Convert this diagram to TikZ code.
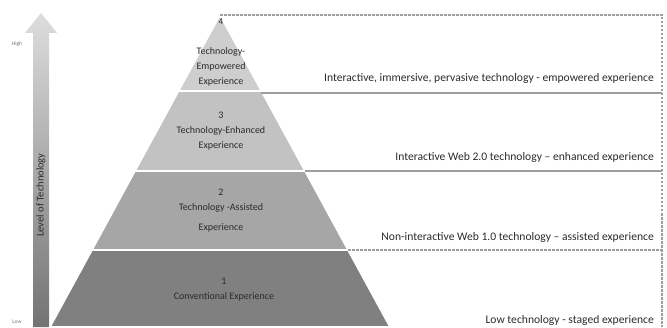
\documentclass[tikz,border=0pt]{standalone}
\usepackage{fontspec}
\setmainfont{Carlito}
\usetikzlibrary{positioning}

\definecolor{tierfour}{HTML}{CECECE}
\definecolor{tierthree}{HTML}{C2C2C2}
\definecolor{tiertwo}{HTML}{A6A6A6}
\definecolor{tierone}{HTML}{808080}
\definecolor{guidegray}{HTML}{9E9E9E}
\definecolor{textgray}{HTML}{2B2B2B}

\begin{document}
\begin{tikzpicture}[
        x=1pt, y=1pt,
        every node/.style={font=\small, text=textgray, inner sep=1pt},
        % Pyramid tiers
        tier/.style={draw=white, line width=1.6pt, line join=miter},
        tierlabel/.style={align=center, font=\fontsize{10}{15}\selectfont},
        % Right-hand guides and descriptions
        guide/.style={draw=guidegray, line width=1.1pt},
        dashguide/.style={guide, dash pattern=on 2.5pt off 1.5pt},
        desc/.style={anchor=east, font=\fontsize{11.6}{13}\selectfont}
    ]
    \useasboundingbox (0,0) rectangle (667,327);

    % --- Level of Technology arrow (left) ---
    \shade[top color=black!13, bottom color=black!55]
        (33,0) -- (33,294) -- (25,294) -- (41,314) -- (57,294) -- (49,294) -- (49,0) -- cycle;
    \node[rotate=90, font=\fontsize{10.5}{12}\selectfont] (axis) at (41,132) {Level of Technology};
    \node[font=\fontsize{5.5}{6}\selectfont, text=black!55] (high) at (17,283) {High};
    \node[font=\fontsize{5.5}{6}\selectfont, text=black!55] (low) at (17,5) {Low};

    % --- Pyramid corners ---
    \coordinate (apex) at (220,312);
    \coordinate (l3) at (178.6,236); \coordinate (r3) at (261.4,236);
    \coordinate (l2) at (135,156);   \coordinate (r2) at (305,156);
    \coordinate (l1) at (92,77);     \coordinate (r1) at (348,77);
    \coordinate (l0) at (50,0);      \coordinate (r0) at (390,0);

    % --- Pyramid tiers ---
    \path[tier, fill=tierone]   (l0) -- (r0) -- (r1) -- (l1) -- cycle;
    \path[tier, fill=tiertwo]   (l1) -- (r1) -- (r2) -- (l2) -- cycle;
    \path[tier, fill=tierthree] (l2) -- (r2) -- (r3) -- (l3) -- cycle;
    \path[tier, fill=tierfour]  (l3) -- (r3) -- (apex) -- cycle;

    % --- Tier labels ---
    \node[font=\fontsize{9}{10}\selectfont] (n4) at (221,305) {4};
    \node[tierlabel] (t4) at (221,260) {Technology-\\Empowered\\Experience};
    \node[tierlabel] (t3) at (221,196) {3\\Technology-Enhanced\\Experience};
    \node[tierlabel] (t2) at (221,116) {2\\Technology -Assisted\\[5pt]Experience};
    \node[tierlabel] (t1) at (224,37) {1\\Conventional Experience};

    % --- Guide lines (right) ---
    \coordinate (topright) at (662,312);
    \coordinate (botright) at (662,0);
    \coordinate (g3) at (662,234);
    \coordinate (g2) at (662,156);
    \coordinate (g1) at (662,77);
    \draw[dashguide] (apex) -- (topright) -- (botright);
    \draw[guide] (r3 |- g3) -- (g3);
    \draw[guide] (r2) -- (g2);
    \draw[dashguide] (r1) -- (g1);

    % --- Descriptions ---
    \node[desc] (d4) at (655,249) {Interactive, immersive, pervasive technology - empowered experience};
    \node[desc] (d3) at (655,170) {Interactive Web 2.0 technology -- enhanced experience};
    \node[desc] (d2) at (655,90) {Non-interactive Web 1.0 technology -- assisted experience};
    \node[desc] (d1) at (655,7) {Low technology - staged experience};

\end{tikzpicture}
\end{document}
